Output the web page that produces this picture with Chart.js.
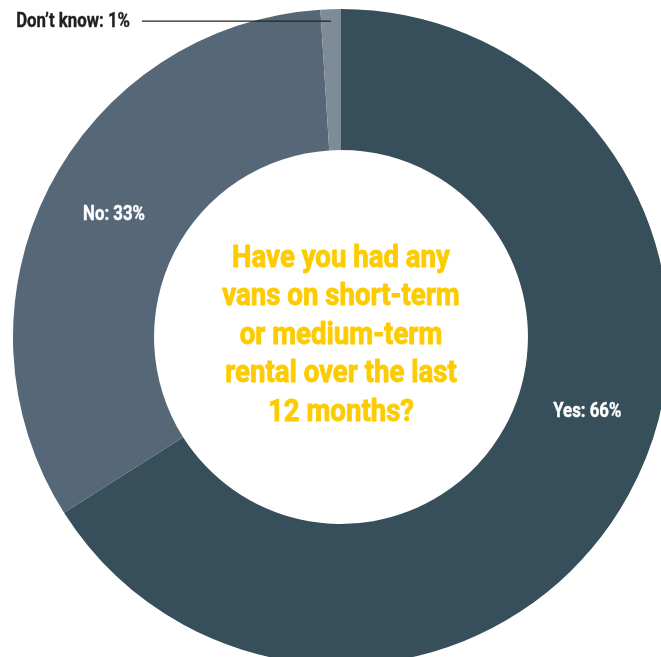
<!DOCTYPE html>
<html>
<head>
<meta charset="utf-8">
<script src="https://cdn.jsdelivr.net/npm/chart.js@4/dist/chart.umd.min.js"></script>
<style>
  html, body { margin: 0; padding: 0; width: 661px; height: 657px; overflow: hidden; background: #ffffff; }
  #wrap { position: absolute; left: 0; top: 0; width: 682px; height: 674px; }
</style>
</head>
<body>
<div id="wrap"><canvas id="c"></canvas></div>
<script>
const categories = ["Yes", "No", "Don\u2019t know"];
const values = [66, 33, 1];
const colors = ["#374e5b", "#566877", "#7d8c96"];
const question = ["Have you had any", "vans on short-term", "or medium-term", "rental over the last", "12 months?"];

const FONT = "Roboto, 'Liberation Sans', sans-serif";

function condensedText(ctx, text, x, y, size, color, align, sx, stroke) {
  ctx.save();
  ctx.font = "bold " + size + "px " + FONT;
  ctx.fillStyle = color;
  ctx.textBaseline = "middle";
  const w = ctx.measureText(text).width * sx;
  let left = x;
  if (align === "center") left = x - w / 2;
  else if (align === "right") left = x - w;
  ctx.translate(left, y);
  ctx.scale(sx, 1);
  ctx.textAlign = "left";
  ctx.fillText(text, 0, 0);
  if (stroke) {
    ctx.strokeStyle = color;
    ctx.lineWidth = stroke;
    ctx.lineJoin = "round";
    ctx.strokeText(text, 0, 0);
  }
  ctx.restore();
}

const labelPlugin = {
  id: "labels",
  afterDatasetsDraw(chart) {
    const ctx = chart.ctx;
    const meta = chart.getDatasetMeta(0);
    const arcs = meta.data;
    const a0 = arcs[0];
    const cx = a0.x, cy = a0.y;
    const fr = [0.45, 0.51];
    for (let i = 0; i < 2; i++) {
      const a = arcs[i];
      const ang = a.startAngle + (a.endAngle - a.startAngle) * fr[i];
      const r = (a.innerRadius + a.outerRadius) / 2;
      const x = cx + Math.cos(ang) * r;
      const y = cy + Math.sin(ang) * r;
      condensedText(ctx, categories[i] + ": " + values[i] + "%", x, y, 20, "#ffffff", "center", 0.84, 0.4);
    }
    // Don't know leader
    const a2 = arcs[2];
    const mid = (a2.startAngle + a2.endAngle) / 2;
    const r2 = a2.outerRadius - 12;
    const ex = cx + Math.cos(mid) * r2;
    const ey = cy + Math.sin(mid) * r2;
    ctx.save();
    ctx.strokeStyle = "#222222";
    ctx.lineWidth = 1.2;
    ctx.beginPath();
    ctx.moveTo(142, ey);
    ctx.lineTo(ex, ey);
    ctx.stroke();
    ctx.restore();
    condensedText(ctx, categories[2] + ": " + values[2] + "%", 130, ey + 1, 20, "#231f20", "right", 0.84, 0.4);
    // center question
    const lh = 38.5;
    const y0 = cy - lh * (question.length - 1) / 2 - 1;
    question.forEach((t, k) => {
      condensedText(ctx, t, cx, y0 + k * lh, 31, "#fdcc00", "center", 0.89, 0.9);
    });
  }
};

new Chart(document.getElementById("c"), {
  type: "doughnut",
  data: {
    labels: categories,
    datasets: [{
      data: values,
      backgroundColor: colors,
      borderWidth: 0
    }]
  },
  options: {
    responsive: true,
    maintainAspectRatio: false,
    animation: false,
    cutout: "57%",
    layout: { padding: 9 },
    plugins: { legend: { display: false }, tooltip: { enabled: false } }
  },
  plugins: [labelPlugin]
});
</script>
</body>
</html>
